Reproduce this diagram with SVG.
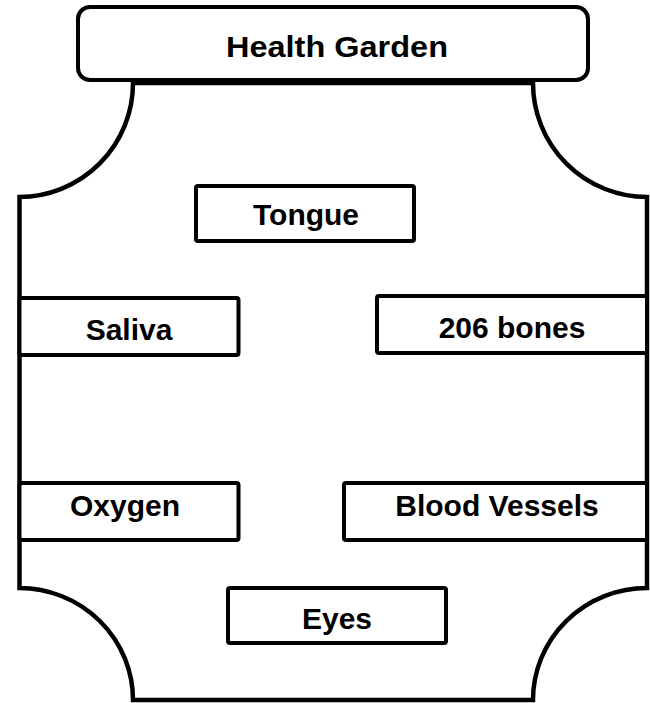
<svg xmlns="http://www.w3.org/2000/svg" width="650" height="703" viewBox="0 0 650 703">
<style>
.frame{fill:#ffffff;stroke:#000000;stroke-width:4.5;stroke-linejoin:miter}
.box{fill:#ffffff;stroke:#000000;stroke-width:4}
.lbl{font-family:"Liberation Sans",Arial,sans-serif;font-weight:bold;font-size:30px;fill:#000000;text-anchor:middle}
</style>
<rect width="650" height="703" fill="#ffffff"/>
<g id="frame">
<path class="frame" d="M133,83 L533,83 A114 114 0 0 0 647,197 L647,588 A114 112 0 0 0 533,700 L133,700 A114 112 0 0 0 19.5,588 L19.5,197 A114 114 0 0 0 133,83 Z"/>
</g>
<g id="title">
<rect class="box" x="78" y="7" width="510" height="73" rx="12" ry="12"/>
<text class="lbl" x="337" y="57" textLength="222" lengthAdjust="spacingAndGlyphs">Health Garden</text>
</g>
<g id="tongue">
<rect class="box" x="196" y="186" width="218" height="55" rx="2"/>
<text class="lbl" x="306" y="225">Tongue</text>
</g>
<g id="saliva">
<rect class="box" x="19.5" y="298" width="219" height="57" rx="2"/>
<text class="lbl" x="129" y="340">Saliva</text>
</g>
<g id="bones">
<rect class="box" x="377" y="296" width="270" height="57" rx="2"/>
<text class="lbl" x="512" y="338">206 bones</text>
</g>
<g id="oxygen">
<rect class="box" x="19.5" y="483" width="219" height="57" rx="2"/>
<text class="lbl" x="125" y="516">Oxygen</text>
</g>
<g id="vessels">
<rect class="box" x="344" y="483" width="303" height="57" rx="2"/>
<text class="lbl" x="497" y="516">Blood Vessels</text>
</g>
<g id="eyes">
<rect class="box" x="228" y="588" width="218" height="55" rx="2"/>
<text class="lbl" x="337" y="629">Eyes</text>
</g>
<g id="connectors"></g>
</svg>
